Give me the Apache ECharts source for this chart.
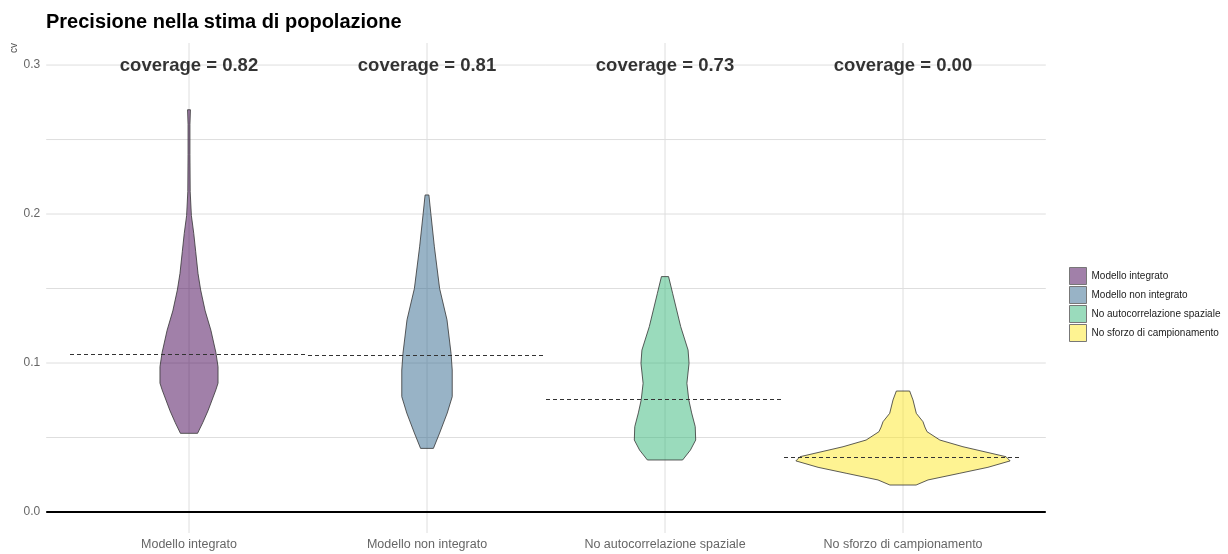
<!DOCTYPE html>
<html>
<head>
<meta charset="utf-8">
<title>Precisione nella stima di popolazione</title>
<script src="https://cdn.jsdelivr.net/npm/echarts@6/dist/echarts.min.js"></script>
<style>
  html, body { margin: 0; padding: 0; background: #fff; }
  #chart { width: 1228px; height: 554px; }
</style>
</head>
<body>
<div id="chart"></div>
<script>
const categories = ['Modello integrato', 'Modello non integrato', 'No autocorrelazione spaziale', 'No sforzo di campionamento'];
const coverage = [0.82, 0.81, 0.73, 0.00];
const refLine = [0.106, 0.1053, 0.0756, 0.0367];
const yTicks = [0, 0.1, 0.2, 0.3];
const yMinorTicks = [0.05, 0.15, 0.25];

// violin outlines: cv level and half width (in category units)
const cvIntegrato = [0.0528, 0.060, 0.068, 0.082, 0.0865, 0.0975, 0.107, 0.122, 0.135, 0.149, 0.160, 0.175, 0.187, 0.199, 0.215, 0.24, 0.26, 0.270];
const wIntegrato = [0.036, 0.058, 0.080, 0.113, 0.122, 0.122, 0.113, 0.092, 0.068, 0.049, 0.038, 0.028, 0.020, 0.010, 0.005, 0.004, 0.004, 0.006];
const cvNonIntegrato = [0.0427, 0.053, 0.0664, 0.0774, 0.0953, 0.1065, 0.129, 0.150, 0.178, 0.2005, 0.2128];
const wNonIntegrato = [0.027, 0.053, 0.085, 0.106, 0.106, 0.101, 0.084, 0.053, 0.031, 0.016, 0.008];
const cvNoAuto = [0.0349, 0.0416, 0.0483, 0.0573, 0.0665, 0.0752, 0.0864, 0.0998, 0.1087, 0.1244, 0.1468, 0.158];
const wNoAuto = [0.074, 0.107, 0.129, 0.127, 0.112, 0.100, 0.092, 0.101, 0.097, 0.066, 0.032, 0.015];
const cvNoSforzo = [0.0181, 0.0215, 0.026, 0.030, 0.0343, 0.0371, 0.0438, 0.0483, 0.0539, 0.057, 0.0606, 0.0662, 0.0752, 0.0812];
const wNoSforzo = [0.055, 0.105, 0.239, 0.357, 0.450, 0.433, 0.252, 0.155, 0.101, 0.092, 0.084, 0.056, 0.042, 0.028];

const violinCv = [cvIntegrato, cvNonIntegrato, cvNoAuto, cvNoSforzo];
const violinW = [wIntegrato, wNonIntegrato, wNoAuto, wNoSforzo];
const colors = ['rgba(68,1,84,0.5)', 'rgba(49,104,142,0.5)', 'rgba(53,183,121,0.5)', 'rgba(253,231,37,0.5)'];

const chart = echarts.init(document.getElementById('chart'));

function violinSeries(k) {
  return {
    type: 'custom',
    name: categories[k],
    data: [[k + 1]],
    z: 3,
    itemStyle: { color: colors[k] },
    renderItem: function (params, api) {
      const cvs = violinCv[k], ws = violinW[k];
      const right = [], left = [];
      for (let j = 0; j < cvs.length; j++) {
        right.push(api.coord([k + 1 + ws[j], cvs[j]]));
        left.push(api.coord([k + 1 - ws[j], cvs[j]]));
      }
      return {
        type: 'polygon',
        shape: { points: right.concat(left.reverse()) },
        style: { fill: colors[k], stroke: '#333', lineWidth: 0.8 }
      };
    },
    markLine: {
      silent: true,
      symbol: ['none', 'none'],
      label: { show: false },
      lineStyle: { color: '#333', type: [4, 3], width: 1 },
      data: [[{ coord: [k + 0.5, refLine[k]] }, { coord: [k + 1.5, refLine[k]] }]],
      z: 5
    }
  };
}

const gridSeries = {
  type: 'custom',
  silent: true,
  z: 1,
  data: [[0]],
  renderItem: function (params, api) {
    const cs = params.coordSys;
    const children = [];
    yTicks.concat(yMinorTicks).forEach(function (v) {
      if (v === 0) return;
      const y = api.coord([1, v])[1];
      children.push({ type: 'line', shape: { x1: cs.x, y1: y, x2: cs.x + cs.width, y2: y }, style: { stroke: '#dedede', lineWidth: 1 } });
    });
    categories.forEach(function (c, i) {
      const x = api.coord([i + 1, 0])[0];
      children.push({ type: 'line', shape: { x1: x, y1: cs.y, x2: x, y2: cs.y + cs.height }, style: { stroke: '#dedede', lineWidth: 1 } });
    });
    const y0 = api.coord([1, 0])[1];
    children.push({ type: 'line', shape: { x1: cs.x, y1: y0, x2: cs.x + cs.width, y2: y0 }, style: { stroke: '#000', lineWidth: 2 } });
    return { type: 'group', children: children };
  }
};

const labelSeries = {
  type: 'scatter',
  symbolSize: 1,
  itemStyle: { color: 'rgba(0,0,0,0)' },
  z: 6,
  data: coverage.map(function (c, i) { return [i + 1, 0.2995, c]; }),
  label: {
    show: true,
    position: 'inside',
    formatter: function (p) { return 'coverage = ' + p.value[2].toFixed(2); },
    fontSize: 18.5,
    fontWeight: 'bold',
    color: '#000',
    textBorderWidth: 0
  }
};

const option = {
  animation: false,
  textStyle: { fontFamily: 'Liberation Sans, Arial, sans-serif' },
  title: {
    text: 'Precisione nella stima di popolazione',
    left: 46,
    top: 12,
    padding: 0,
    textStyle: { fontSize: 20, fontWeight: 'bold', color: '#000' }
  },
  graphic: [{
    type: 'text',
    x: 14,
    y: 48,
    rotation: Math.PI / 2,
    style: { text: 'cv', fontSize: 10, fill: '#555', textAlign: 'center', textVerticalAlign: 'middle', fontFamily: 'Liberation Sans' }
  }],
  legend: {
    orient: 'vertical',
    left: 1064,
    top: 262,
    itemWidth: 17,
    itemHeight: 17,
    itemGap: 1,
    icon: 'rect',
    textStyle: { fontSize: 10, color: '#1a1a1a' },
    data: categories.map(function (c, i) {
      return { name: c, itemStyle: { color: colors[i], borderColor: '#777', borderWidth: 1 } };
    })
  },
  grid: { left: 46.2, right: 182.2, top: 43, bottom: 21, containLabel: false },
  xAxis: {
    type: 'value',
    min: 0.4,
    max: 4.6,
    axisLine: { show: false },
    axisTick: { show: false },
    splitLine: { show: false },
    axisLabel: {
      customValues: [1, 2, 3, 4],
      formatter: function (v) { return categories[Math.round(v) - 1]; },
      color: '#666',
      fontSize: 12.5,
      margin: 5
    }
  },
  yAxis: {
    type: 'value',
    min: -0.0141,
    max: 0.3148,
    axisLine: { show: false },
    axisTick: { show: false },
    splitLine: { show: false },
    axisLabel: {
      customValues: yTicks,
      formatter: function (v) { return v.toFixed(1); },
      color: '#666',
      fontSize: 12,
      margin: 6
    }
  },
  series: [gridSeries, violinSeries(0), violinSeries(1), violinSeries(2), violinSeries(3), labelSeries]
};

chart.setOption(option);
</script>
</body>
</html>
